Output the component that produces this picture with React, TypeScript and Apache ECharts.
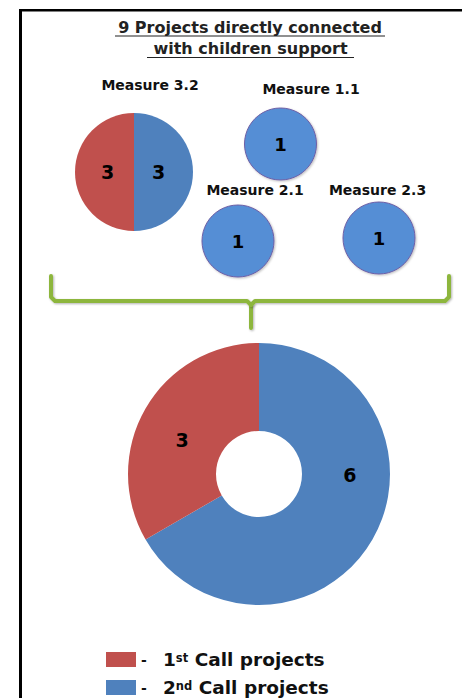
import React, { useEffect, useRef } from "react";
import * as echarts from "echarts";

// ---- data ----
const callNames = ["2nd Call projects", "1st Call projects"];
const callColors = ["#4F81BD", "#C0504D"];
const totalValues = [6, 3];
const measure32Name = "Measure 3.2";
const measure32Values = [3, 3];
const singleMeasureNames = ["Measure 1.1", "Measure 2.1", "Measure 2.3"];
const singleMeasureValues = [1, 1, 1];
const titleLines = ["9 Projects directly connected", "with children support"];
const legendOrder = ["1st Call projects", "2nd Call projects"];
const legendSup: Record<string, [string, string]> = {
  "1st Call projects": ["1", "st"],
  "2nd Call projects": ["2", "nd"],
};

const FONT = '"DejaVu Sans", Verdana, sans-serif';

export default function App() {
  const ref = useRef<HTMLDivElement>(null);
  useEffect(() => {
    if (!ref.current) return;
    const chart = echarts.init(ref.current, null, { renderer: "svg" });

    const labelBase = {
      fontFamily: FONT,
      fontWeight: "bold" as const,
      color: "#000",
    };

    const singleCenters = [
      [280.5, 144],
      [238, 241],
      [379, 238],
    ];
    const singleLabelPos = [
      [311, 89],
      [255, 190],
      [377.5, 190],
    ];

    const singleSeries = singleMeasureNames.map((m, i) => ({
      type: "pie",
      name: m,
      center: singleCenters[i],
      radius: 36,
      startAngle: 90,
      silent: true,
      itemStyle: {
        color: "#558ED5",
        borderColor: "#6E5FA6",
        borderWidth: 1,
        shadowColor: "rgba(0,0,0,0.25)",
        shadowBlur: 2,
        shadowOffsetX: 1,
        shadowOffsetY: 1,
      },
      label: { show: true, position: "center", formatter: "{c}", fontSize: 18, ...labelBase },
      labelLine: { show: false },
      data: [{ name: callNames[0], value: singleMeasureValues[i] }],
    }));

    const option: any = {
      animation: false,
      legend: {
        orient: "vertical",
        left: 106,
        top: 650,
        height: 60,
        itemWidth: 30,
        itemHeight: 15,
        itemGap: 9,
        padding: 0,
        selectedMode: false,
        icon: "rect",
        data: legendOrder,
        formatter: (name: string) => {
          const [n, s] = legendSup[name];
          return `{d|-}${n}{sup|${s}} Call projects`;
        },
        textStyle: {
          fontFamily: FONT,
          fontWeight: "bold",
          fontSize: 18.5,
          lineHeight: 16,
          color: "#111",
          rich: {
            d: { width: 22, fontSize: 14, fontFamily: FONT, fontWeight: "bold", color: "#111" },
            sup: {
              fontSize: 11.5,
              lineHeight: 10,
              verticalAlign: "top",
              fontFamily: FONT,
              fontWeight: "bold",
              color: "#111",
            },
          },
        },
      },
      graphic: [
        // frame
        { type: "line", shape: { x1: 19, y1: 10.3, x2: 462, y2: 10.3 }, style: { stroke: "#000", lineWidth: 2.5 } },
        { type: "line", shape: { x1: 20.5, y1: 9, x2: 20.5, y2: 698 }, style: { stroke: "#000", lineWidth: 3 } },
        // title
        {
          type: "text",
          x: 250,
          y: 27,
          style: { text: titleLines[0], align: "center", verticalAlign: "middle", font: `bold 16px ${FONT}`, fill: "#222" },
        },
        {
          type: "text",
          x: 250.5,
          y: 48,
          style: { text: titleLines[1], align: "center", verticalAlign: "middle", font: `bold 16px ${FONT}`, fill: "#222" },
        },
        { type: "line", shape: { x1: 115, y1: 36, x2: 385, y2: 36 }, style: { stroke: "#222", lineWidth: 1.2 } },
        { type: "line", shape: { x1: 147, y1: 57.5, x2: 354, y2: 57.5 }, style: { stroke: "#222", lineWidth: 1.2 } },
        // measure labels
        {
          type: "text",
          x: 150,
          y: 85,
          style: { text: measure32Name, align: "center", verticalAlign: "middle", font: `bold 14px ${FONT}`, fill: "#111" },
        },
        ...singleMeasureNames.map((m, i) => ({
          type: "text",
          x: singleLabelPos[i][0],
          y: singleLabelPos[i][1],
          style: { text: m, align: "center", verticalAlign: "middle", font: `bold 14px ${FONT}`, fill: "#111" },
        })),
        // bracket
        {
          type: "polyline",
          shape: { points: [[51, 276], [51, 297], [55, 301], [247, 301], [251, 305], [251, 328]] },
          style: { stroke: "#8DB63C", lineWidth: 4, fill: null, lineJoin: "round", lineCap: "round", shadowColor: "rgba(0,0,0,0.3)", shadowBlur: 2, shadowOffsetX: 1, shadowOffsetY: 1 },
        },
        {
          type: "polyline",
          shape: { points: [[449, 276], [449, 297], [445, 301], [255, 301], [251, 305]] },
          style: { stroke: "#8DB63C", lineWidth: 4, fill: null, lineJoin: "round", lineCap: "round", shadowColor: "rgba(0,0,0,0.3)", shadowBlur: 2, shadowOffsetX: 1, shadowOffsetY: 1 },
        },
      ],
      series: [
        {
          type: "pie",
          name: "Total",
          center: [259, 474],
          radius: [43, 131],
          startAngle: 90,
          silent: true,
          label: { show: true, position: "inside", formatter: "{c}", fontSize: 19, ...labelBase },
          labelLine: { show: false },
          labelLayout: (p: any) => (p.dataIndex === 0 ? { dx: 13, dy: -44 } : { dx: 1, dy: 11 }),
          data: callNames.map((n, i) => ({ name: n, value: totalValues[i], itemStyle: { color: callColors[i] } })),
        },
        {
          type: "pie",
          name: measure32Name,
          center: [134, 172],
          radius: 59,
          startAngle: 90,
          silent: true,
          label: { show: true, position: "inside", formatter: "{c}", fontSize: 19, ...labelBase },
          labelLine: { show: false },
          labelLayout: (p: any) => (p.dataIndex === 0 ? { dx: -8 } : { dx: 6 }),
          data: callNames.map((n, i) => ({ name: n, value: measure32Values[i], itemStyle: { color: callColors[i] } })),
        },
        ...singleSeries,
      ],
    };

    chart.setOption(option);
    return () => chart.dispose();
  }, []);

  return (
    <div
      ref={ref}
      style={{ position: "absolute", left: 0, top: 0, width: 462, height: 698, background: "#fff" }}
    />
  );
}
